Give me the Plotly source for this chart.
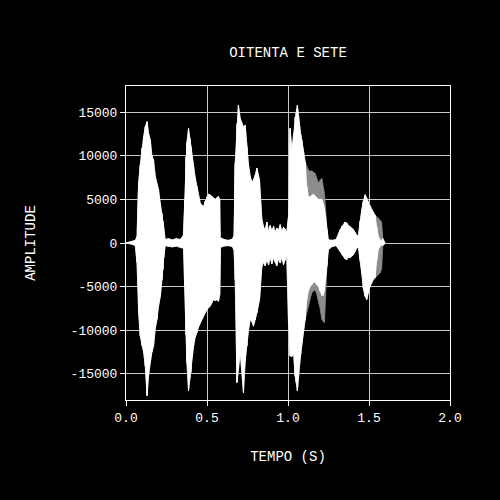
import plotly.graph_objects as go

# Outer envelope of the waveform: time (s), upper and lower amplitude
time_s = [0.000, 0.039, 0.057, 0.068, 0.078, 0.088, 0.099, 0.109, 0.119, 0.130,
          0.139, 0.150, 0.160, 0.170, 0.181, 0.191, 0.201, 0.212, 0.222, 0.228,
          0.232, 0.242, 0.261, 0.286, 0.310, 0.335, 0.355, 0.363, 0.370, 0.376,
          0.386, 0.394, 0.401, 0.409, 0.417, 0.427, 0.438, 0.448, 0.458, 0.469,
          0.479, 0.489, 0.500, 0.510, 0.520, 0.530, 0.540, 0.551, 0.561, 0.571,
          0.578, 0.582, 0.606, 0.631, 0.656, 0.667, 0.674, 0.685, 0.694, 0.705,
          0.714, 0.722, 0.725, 0.736, 0.746, 0.756, 0.767, 0.777, 0.787, 0.798,
          0.808, 0.824, 0.839, 0.850, 0.859, 0.870, 0.880, 0.890, 0.900, 0.911,
          0.921, 0.931, 0.942, 0.952, 0.962, 0.972, 0.982, 0.992, 1.003, 1.013,
          1.024, 1.034, 1.044, 1.051, 1.058, 1.065, 1.071, 1.078, 1.085, 1.096,
          1.106, 1.116, 1.126, 1.137, 1.147, 1.157, 1.167, 1.178, 1.188, 1.198,
          1.209, 1.217, 1.225, 1.232, 1.240, 1.249, 1.272, 1.297, 1.322, 1.332,
          1.342, 1.352, 1.363, 1.373, 1.383, 1.394, 1.404, 1.414, 1.424, 1.434,
          1.445, 1.455, 1.465, 1.476, 1.486, 1.496, 1.507, 1.517, 1.527, 1.537,
          1.548, 1.558, 1.568, 1.578, 1.585, 1.599]

upper = [0, 150, 300, 750, 6900, 8950, 10900, 12180, 13320, 13900,
         12600, 11800, 10000, 9520, 7610, 6800, 6090, 4500, 3430, 2500,
         1900, 400, 500, 350, 500, 400, 900, 5000, 9900, 11500,
         13140, 12000, 11040, 9800, 8750, 7500, 6470, 5400, 4600, 4300,
         4180, 4800, 5320, 5600, 5500, 5300, 5140, 5000, 5200, 5320,
         5000, 600, 400, 300, 450, 800, 9140, 13700, 15800, 14280,
         13800, 13320, 13300, 13500, 11040, 9000, 7610, 7000, 7230, 7800,
         8570, 7230, 2660, 1800, 1500, 2400, 1300, 2000, 1400, 1900,
         1200, 1700, 1500, 2100, 1300, 1800, 1600, 1200, 3000, 13140,
         10660, 12500, 14460, 15000, 15800, 14500, 13320, 12500, 11800, 10500,
         9320, 8800, 8370, 8200, 8300, 8100, 8000, 7400, 6860, 7200,
         7430, 6500, 5710, 4000, 1520, 380, 300, 400, 1520, 1900,
         2090, 2400, 2280, 2000, 1900, 1700, 1520, 1200, 900, 750,
         2500, 3800, 4800, 5520, 5140, 4600, 4180, 3800, 3430, 3200,
         3040, 2800, 2660, 2400, 500, 0]

lower = [0, -150, -300, -2250, -7960, -10670, -11800, -12540, -14100, -17500,
         -15240, -13700, -12500, -11810, -9800, -8760, -7200, -6100, -4200, -3050,
         -1800, -300, -400, -450, -350, -500, -600, -5000, -10500, -13700,
         -16950, -15500, -14840, -13000, -11810, -10800, -10250, -9600, -9110, -8700,
         -8380, -8000, -7620, -7400, -7240, -6900, -6480, -6600, -6500, -6670,
         -6000, -500, -350, -300, -400, -800, -4190, -16000, -14480, -12540,
         -14500, -16500, -17140, -13500, -11810, -10000, -8760, -9000, -9530, -8800,
         -8000, -6500, -2670, -2200, -2600, -1900, -2500, -1600, -2400, -1700,
         -2200, -2600, -1800, -2300, -1600, -2500, -1900, -1400, -9140, -12950,
         -13000, -12570, -15240, -16000, -16950, -15500, -14100, -12800, -11430, -10000,
         -8760, -8000, -7240, -6400, -5710, -5500, -5340, -5900, -6480, -7500,
         -8760, -9000, -9140, -6500, -2670, -770, -400, -300, -960, -1300,
         -1530, -1800, -1900, -1600, -1710, -1500, -1340, -1000, -600, -390,
         -2000, -3430, -5200, -6100, -6480, -5700, -4960, -4500, -4190, -4000,
         -3810, -3600, -3430, -3000, -300, 0]

# Where the reference shows a grey fringe, the solid white body is narrower
fringe_time = [1.116, 1.126, 1.137, 1.147, 1.157, 1.167, 1.178, 1.188, 1.198,
               1.209, 1.217, 1.225, 1.232,
               1.548, 1.558, 1.568, 1.578]
fringe_white_upper = [6500, 5300, 5300, 5500, 5600, 5400, 5200, 5000, 5000,
                      5000, 4500, 4000, 3000,
                      1800, 700, 400, 200]
fringe_white_lower = [-6500, -5500, -5000, -4800, -4500, -4500, -4800, -5000, -5500,
                      -6000, -6000, -5500, -4000,
                      -2000, -700, -400, -200]

x_ticks = [0.0, 0.5, 1.0, 1.5, 2.0]
x_tick_labels = ["0.0", "0.5", "1.0", "1.5", "2.0"]
y_ticks = [-15000, -10000, -5000, 0, 5000, 10000, 15000]
y_tick_labels = ["-15000", "-10000", "-5000", "0", "5000", "10000", "15000"]

white_upper = list(upper)
white_lower = list(lower)
for t, u, l in zip(fringe_time, fringe_white_upper, fringe_white_lower):
    i = time_s.index(t)
    white_upper[i] = u
    white_lower[i] = l


def envelope_polygon(ts, up, lo):
    return list(ts) + list(ts)[::-1], list(up) + list(lo)[::-1]


FONT = "Liberation Mono"
fig = go.Figure()

# grey fringe (outer envelope)
px, py = envelope_polygon(time_s, upper, lower)
fig.add_trace(go.Scatter(x=px, y=py, mode="lines", fill="toself",
                         fillcolor="#8c8c8c", line=dict(color="#8c8c8c", width=0.8),
                         hoverinfo="skip", showlegend=False))
# white body
px, py = envelope_polygon(time_s, white_upper, white_lower)
fig.add_trace(go.Scatter(x=px, y=py, mode="lines", fill="toself",
                         fillcolor="white", line=dict(color="white", width=0.8),
                         hoverinfo="skip", showlegend=False))
# oscillation strokes between the envelopes
wx, wy = [], []
for t, u, l in zip(time_s, white_upper, white_lower):
    wx += [t, t]
    wy += [u, l]
fig.add_trace(go.Scatter(x=wx, y=wy, mode="lines",
                         line=dict(color="white", width=1),
                         hoverinfo="skip", showlegend=False))

fig.update_layout(
    width=500, height=500,
    paper_bgcolor="black", plot_bgcolor="black",
    margin=dict(l=126, r=50, t=86, b=100),
    font=dict(family=FONT, color="white", size=13),
    title=dict(text="OITENTA E SETE", x=0.5, xref="paper", xanchor="center",
               y=1 - 52 / 500, yref="container", yanchor="middle",
               font=dict(family=FONT, size=14, color="white")),
    showlegend=False,
)
fig.update_xaxes(range=[0, 2], tickvals=x_ticks, ticktext=x_tick_labels,
                 showgrid=True, gridcolor="#c8c8c8", gridwidth=1,
                 showline=True, linecolor="white", linewidth=1, mirror=True,
                 ticks="outside", ticklen=5, tickcolor="white",
                 zeroline=False,
                 title=dict(text="TEMPO (S)", standoff=26,
                            font=dict(family=FONT, size=14, color="white")),
                 tickfont=dict(family=FONT, size=13, color="white"))
fig.update_yaxes(range=[-18000, 18000], tickvals=y_ticks, ticktext=y_tick_labels,
                 showgrid=True, gridcolor="#c8c8c8", gridwidth=1,
                 showline=True, linecolor="white", linewidth=1, mirror=True,
                 ticks="outside", ticklen=5, tickcolor="white",
                 zeroline=False,
                 title=dict(text="AMPLITUDE", standoff=31,
                            font=dict(family=FONT, size=14, color="white")),
                 tickfont=dict(family=FONT, size=13, color="white"))

fig.write_html("out.html")
